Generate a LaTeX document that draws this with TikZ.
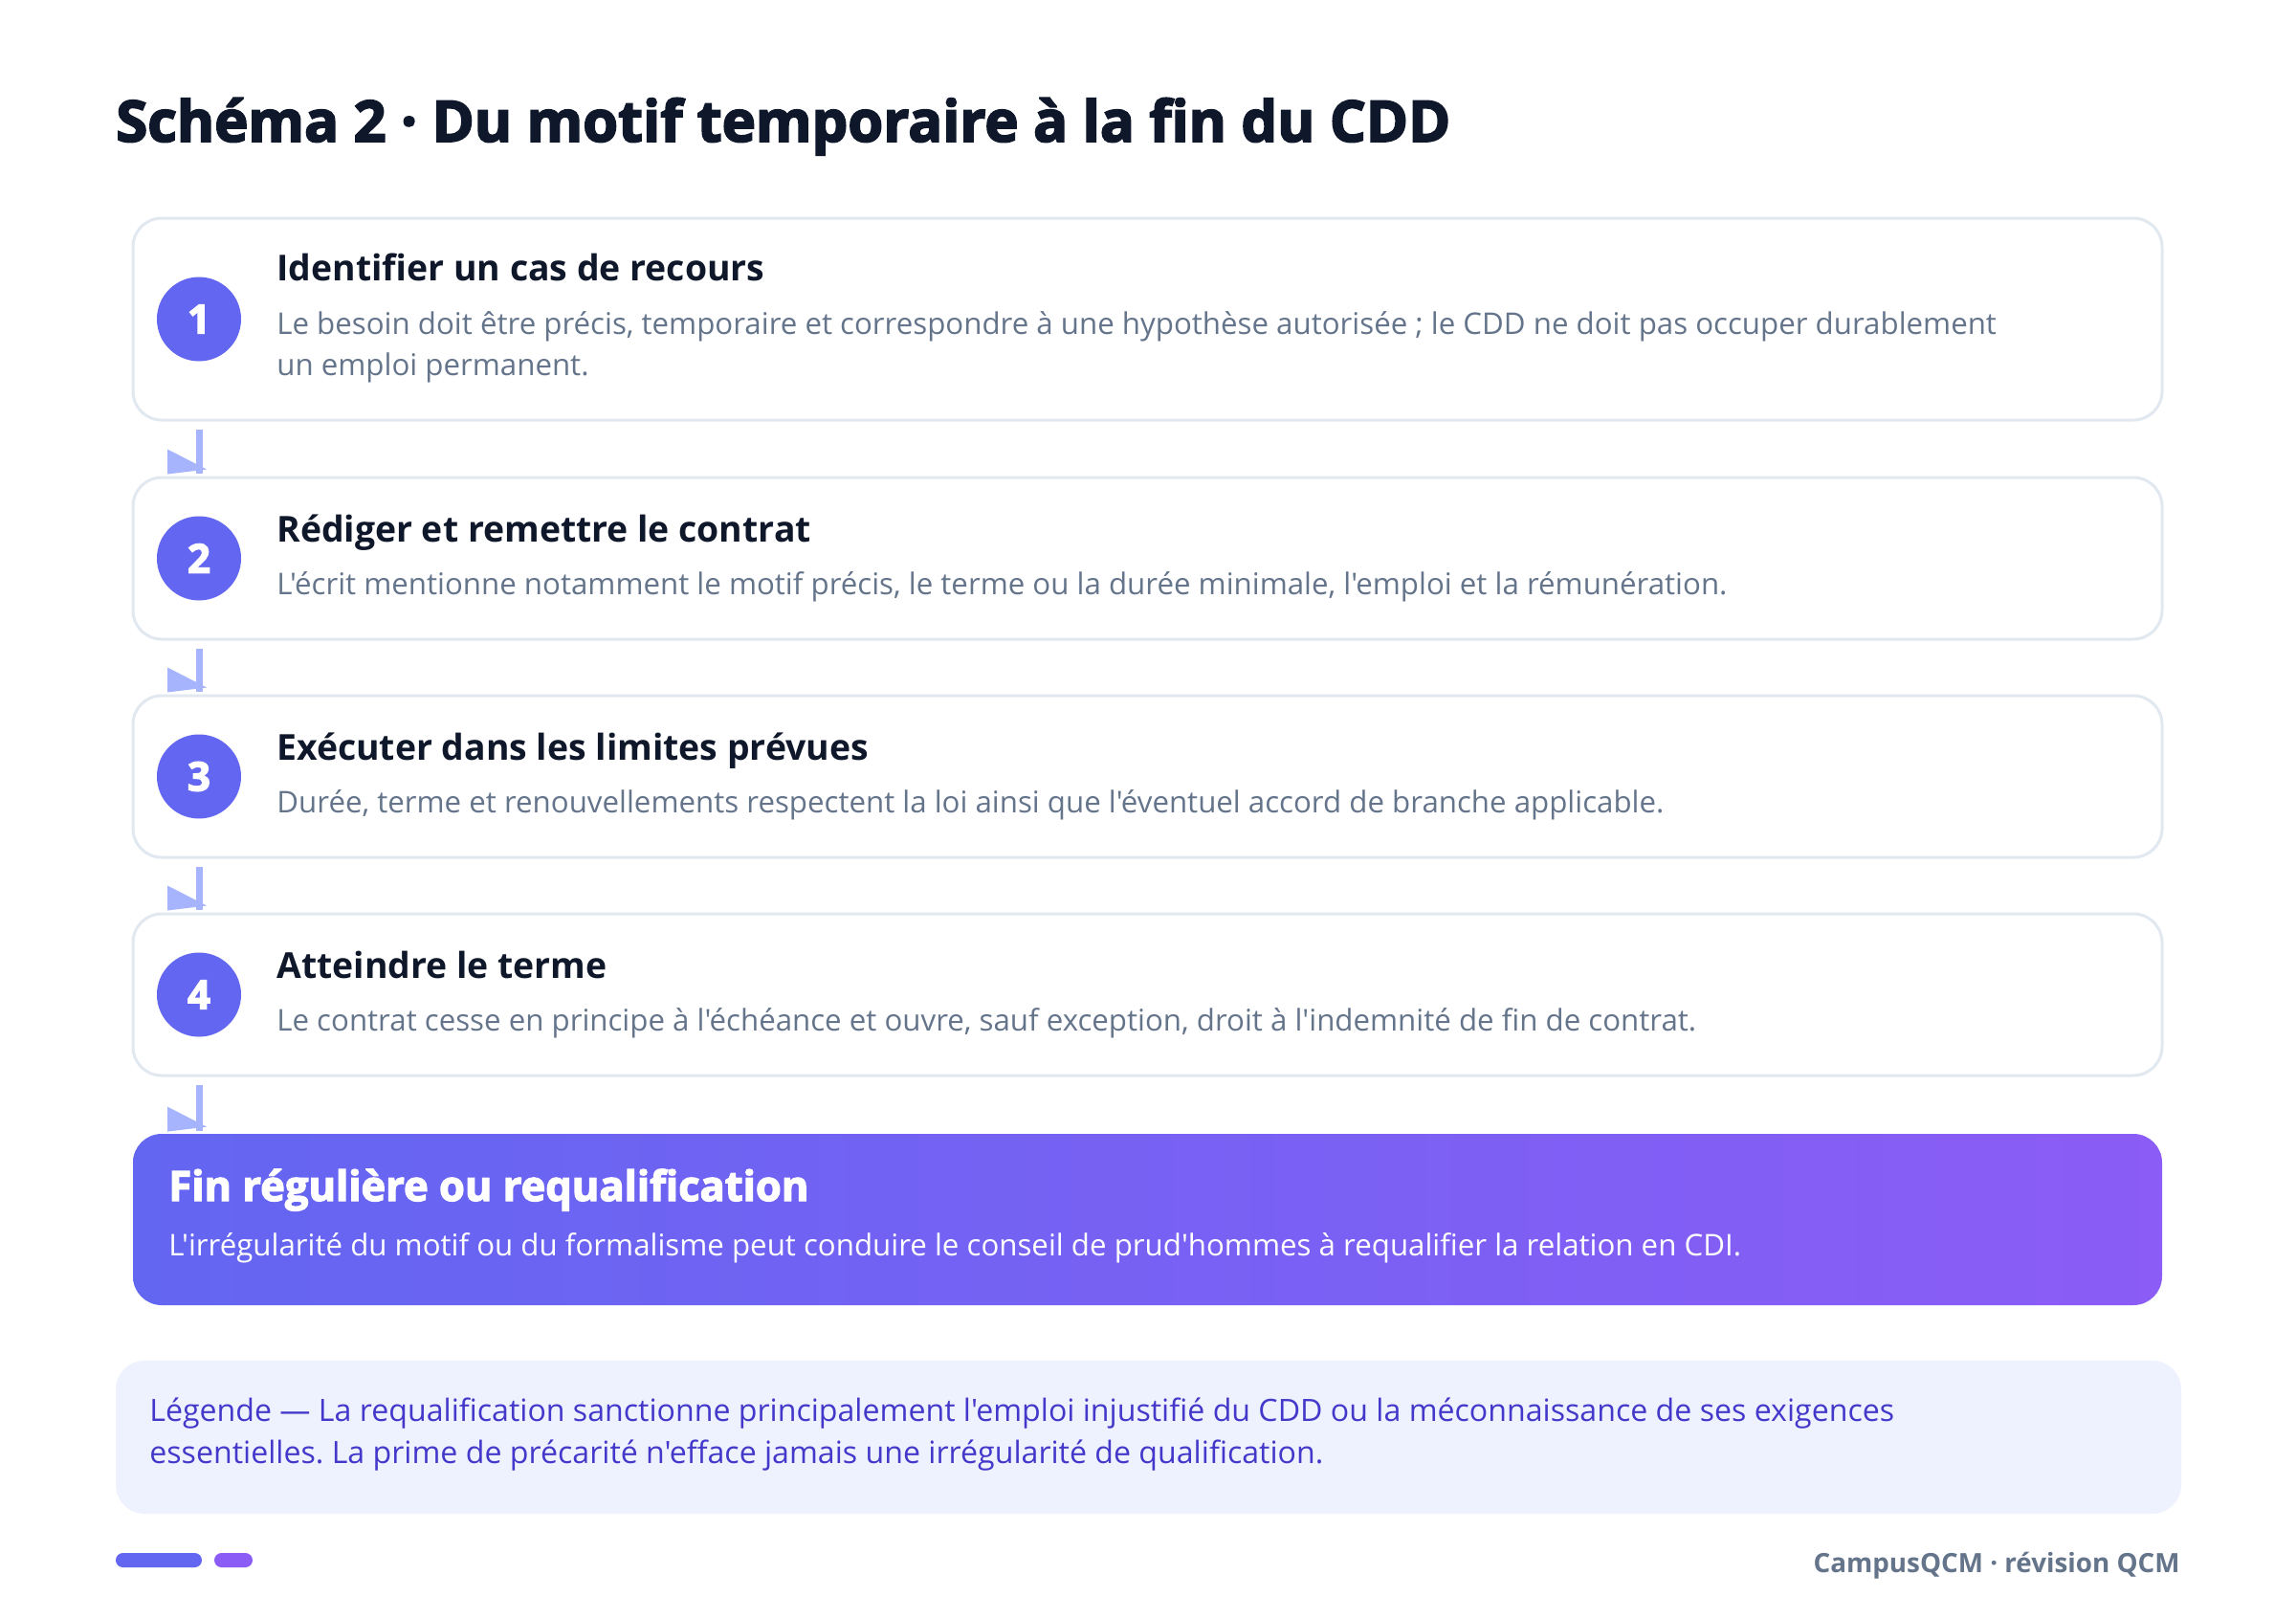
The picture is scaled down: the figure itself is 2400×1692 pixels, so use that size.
\documentclass[tikz,border=0pt]{standalone}
\usepackage{fontspec}
\setmainfont{Open Sans}[Ligatures=TeXOff]
\newfontfamily\osfont{Open Sans}[Ligatures=TeXOff]
\newfontfamily\heavyfont{Open Sans}[Ligatures=TeXOff,FakeBold=3]
\usetikzlibrary{calc}
\frenchspacing

\definecolor{ink}{HTML}{0F172A}
\definecolor{slate}{HTML}{64748B}
\definecolor{bordc}{HTML}{E2E8F0}
\definecolor{indigo}{HTML}{6366F1}
\definecolor{violet}{HTML}{8B5CF6}
\definecolor{arrowc}{HTML}{A5B4FC}
\definecolor{legbg}{HTML}{EEF2FF}
\definecolor{legtx}{HTML}{4338CA}

\newlength\calw
\newcommand\fitsize[4]{%
  \setbox0=\hbox{\frenchspacing#2\fontsize{10pt}{12pt}\selectfont #3}%
  \calw=\wd0\relax
  \pgfmathparse{10*#4/\calw}%
  \xdef#1{\pgfmathresult}}

\AtBeginDocument{%
  \fitsize\szA{\osfont}{Le besoin doit être précis, temporaire et correspondre à une hypothèse autorisée ; le CDD ne doit pas occuper durablement}{898}%
  \fitsize\szB{\osfont}{L'écrit mentionne notamment le motif précis, le terme ou la durée minimale, l'emploi et la rémunération.}{758.5}%
  \fitsize\szC{\osfont}{Durée, terme et renouvellements respectent la loi ainsi que l'éventuel accord de branche applicable.}{724}%
  \fitsize\szD{\osfont}{Le contrat cesse en principe à l'échéance et ouvre, sauf exception, droit à l'indemnité de fin de contrat.}{743.5}%
  \fitsize\szE{\osfont}{L'irrégularité du motif ou du formalisme peut conduire le conseil de prud'hommes à requalifier la relation en CDI.}{821.5}%
  \pgfmathparse{(\szA+\szB+\szC+\szD+\szE)/5}\xdef\bodysz{\pgfmathresult}%
  \fitsize\stA{\osfont\bfseries}{Identifier un cas de recours}{255.5}%
  \fitsize\stB{\osfont\bfseries}{Rédiger et remettre le contrat}{280}%
  \fitsize\stC{\osfont\bfseries}{Exécuter dans les limites prévues}{308.5}%
  \fitsize\stD{\osfont\bfseries}{Atteindre le terme}{172}%
  \pgfmathparse{(\stA+\stB+\stC+\stD)/4}\xdef\stepsz{\pgfmathresult}%
  \fitsize\titlesz{\heavyfont\bfseries}{Schéma 2 · Du motif temporaire à la fin du CDD}{697.5}%
  \fitsize\finsz{\heavyfont\bfseries}{Fin régulière ou requalification}{334.5}%
  \fitsize\footsz{\osfont\bfseries}{CampusQCM · révision QCM}{191.5}%
  \fitsize\lgA{\osfont}{Légende — La requalification sanctionne principalement l'emploi injustifié du CDD ou la méconnaissance de ses exigences}{915.5}%
  \fitsize\lgB{\osfont}{essentielles. La prime de précarité n'efface jamais une irrégularité de qualification.}{611}%
  \pgfmathparse{(\lgA+\lgB)/2}\xdef\legsz{\pgfmathresult}%
}

\tikzset{
  stepbox/.style={draw=bordc, line width=1.5pt, fill=white, rounded corners=15pt,
    minimum width=1060.5pt, inner sep=0pt},
  numdot/.style={circle, fill=indigo, minimum size=44pt, inner sep=0pt, text=white,
    font=\heavyfont\bfseries\fontsize{21pt}{21pt}\selectfont},
  steptitle/.style={anchor=base west, inner sep=0pt, text=ink,
    font=\osfont\bfseries\fontsize{\stepsz pt}{\stepsz pt}\selectfont},
  stepbody/.style={anchor=base west, inner sep=0pt, text=slate,
    font=\osfont\fontsize{\bodysz pt}{\bodysz pt}\selectfont},
  fintitle/.style={anchor=base west, inner sep=0pt, text=white,
    font=\heavyfont\bfseries\fontsize{\finsz pt}{\finsz pt}\selectfont},
  finbody/.style={anchor=base west, inner sep=0pt, text=white,
    font=\osfont\fontsize{\bodysz pt}{\bodysz pt}\selectfont},
  legtext/.style={anchor=base west, inner sep=0pt, text=legtx,
    font=\osfont\fontsize{\legsz pt}{\legsz pt}\selectfont},
  flow/.style={draw=arrowc, line width=3.5pt},
  flowhead/.style={fill=arrowc},
  bar/.style={rounded corners=3.75pt, minimum height=7.5pt, inner sep=0pt},
}

\begin{document}
\begin{tikzpicture}[x=0.5pt, y=-0.5pt]
  \useasboundingbox (0,0) rectangle (2400,1692);
  \fill[white] (0,0) rectangle (2400,1692);

  % title
  \node[anchor=base west, inner sep=0pt, text=ink,
        font=\heavyfont\bfseries\fontsize{\titlesz pt}{\titlesz pt}\selectfont]
        (title) at (121,148) {Schéma 2 · Du motif temporaire à la fin du CDD};

  % step 1
  \node[stepbox, minimum height=105.5pt] (b1) at (1199.5,333.5) {};
  \node[numdot] (c1) at (208,333.5) {1};
  \node[steptitle] (t1) at (289,293) {Identifier un cas de recours};
  \node[stepbody] (d1a) at (289,349) {Le besoin doit être précis, temporaire et correspondre à une hypothèse autorisée ; le CDD ne doit pas occuper durablement};
  \node[stepbody] (d1b) at (289,392) {un emploi permanent.};

  % step 2
  \node[stepbox, minimum height=84.5pt] (b2) at (1199.5,583.5) {};
  \node[numdot] (c2) at (208,583.5) {2};
  \node[steptitle] (t2) at (289,566.5) {Rédiger et remettre le contrat};
  \node[stepbody] (d2) at (289,621.5) {L'écrit mentionne notamment le motif précis, le terme ou la durée minimale, l'emploi et la rémunération.};

  % step 3
  \node[stepbox, minimum height=84.5pt] (b3) at (1199.5,811.5) {};
  \node[numdot] (c3) at (208,811.5) {3};
  \node[steptitle] (t3) at (289,794.5) {Exécuter dans les limites prévues};
  \node[stepbody] (d3) at (289,849.5) {Durée, terme et renouvellements respectent la loi ainsi que l'éventuel accord de branche applicable.};

  % step 4
  \node[stepbox, minimum height=84.5pt] (b4) at (1199.5,1039.5) {};
  \node[numdot] (c4) at (208,1039.5) {4};
  \node[steptitle] (t4) at (289,1022.5) {Atteindre le terme};
  \node[stepbody] (d4) at (289,1077.5) {Le contrat cesse en principe à l'échéance et ouvre, sauf exception, droit à l'indemnité de fin de contrat.};

  % final box
  \node[rounded corners=15pt, left color=indigo, right color=violet, draw=none,
        minimum width=1060.5pt, minimum height=89.5pt, inner sep=0pt] (fin) at (1199.5,1274.5) {};
  \node[fintitle] (ft) at (176,1255) {Fin régulière ou requalification};
  \node[finbody] (fb) at (176,1312) {L'irrégularité du motif ou du formalisme peut conduire le conseil de prud'hommes à requalifier la relation en CDI.};

  % connectors
  \foreach \a/\b in {b1/b2, b2/b3, b3/b4, b4/fin} {
    \coordinate (e-\b) at ([yshift=1.5pt]\b.north -| c1.center);
    \draw[flow] ([yshift=-4pt]\a.south -| c1.center) -- (e-\b);
    \fill[flowhead] (e-\b) ++(-33,1) -- ++(0,-26) -- ++(41,21) -- cycle;
  }

  % legend
  \node[fill=legbg, rounded corners=15pt, minimum width=1079.5pt, minimum height=80pt,
        inner sep=0pt] (leg) at (1200.5,1502) {};
  \node[legtext] (l1) at (156,1485) {Légende — La requalification sanctionne principalement l'emploi injustifié du CDD ou la méconnaissance de ses exigences};
  \node[legtext] (l2) at (156,1529.5) {essentielles. La prime de précarité n'efface jamais une irrégularité de qualification.};

  % footer
  \node[bar, fill=indigo, minimum width=45pt] (bar1) at (166,1630.5) {};
  \node[bar, fill=violet, minimum width=20pt] (bar2) at (244,1630.5) {};
  \node[anchor=base east, inner sep=0pt, text=slate,
        font=\osfont\bfseries\fontsize{\footsz pt}{\footsz pt}\selectfont]
        (foot) at (2279,1643) {CampusQCM · révision QCM};
\end{tikzpicture}
\end{document}
